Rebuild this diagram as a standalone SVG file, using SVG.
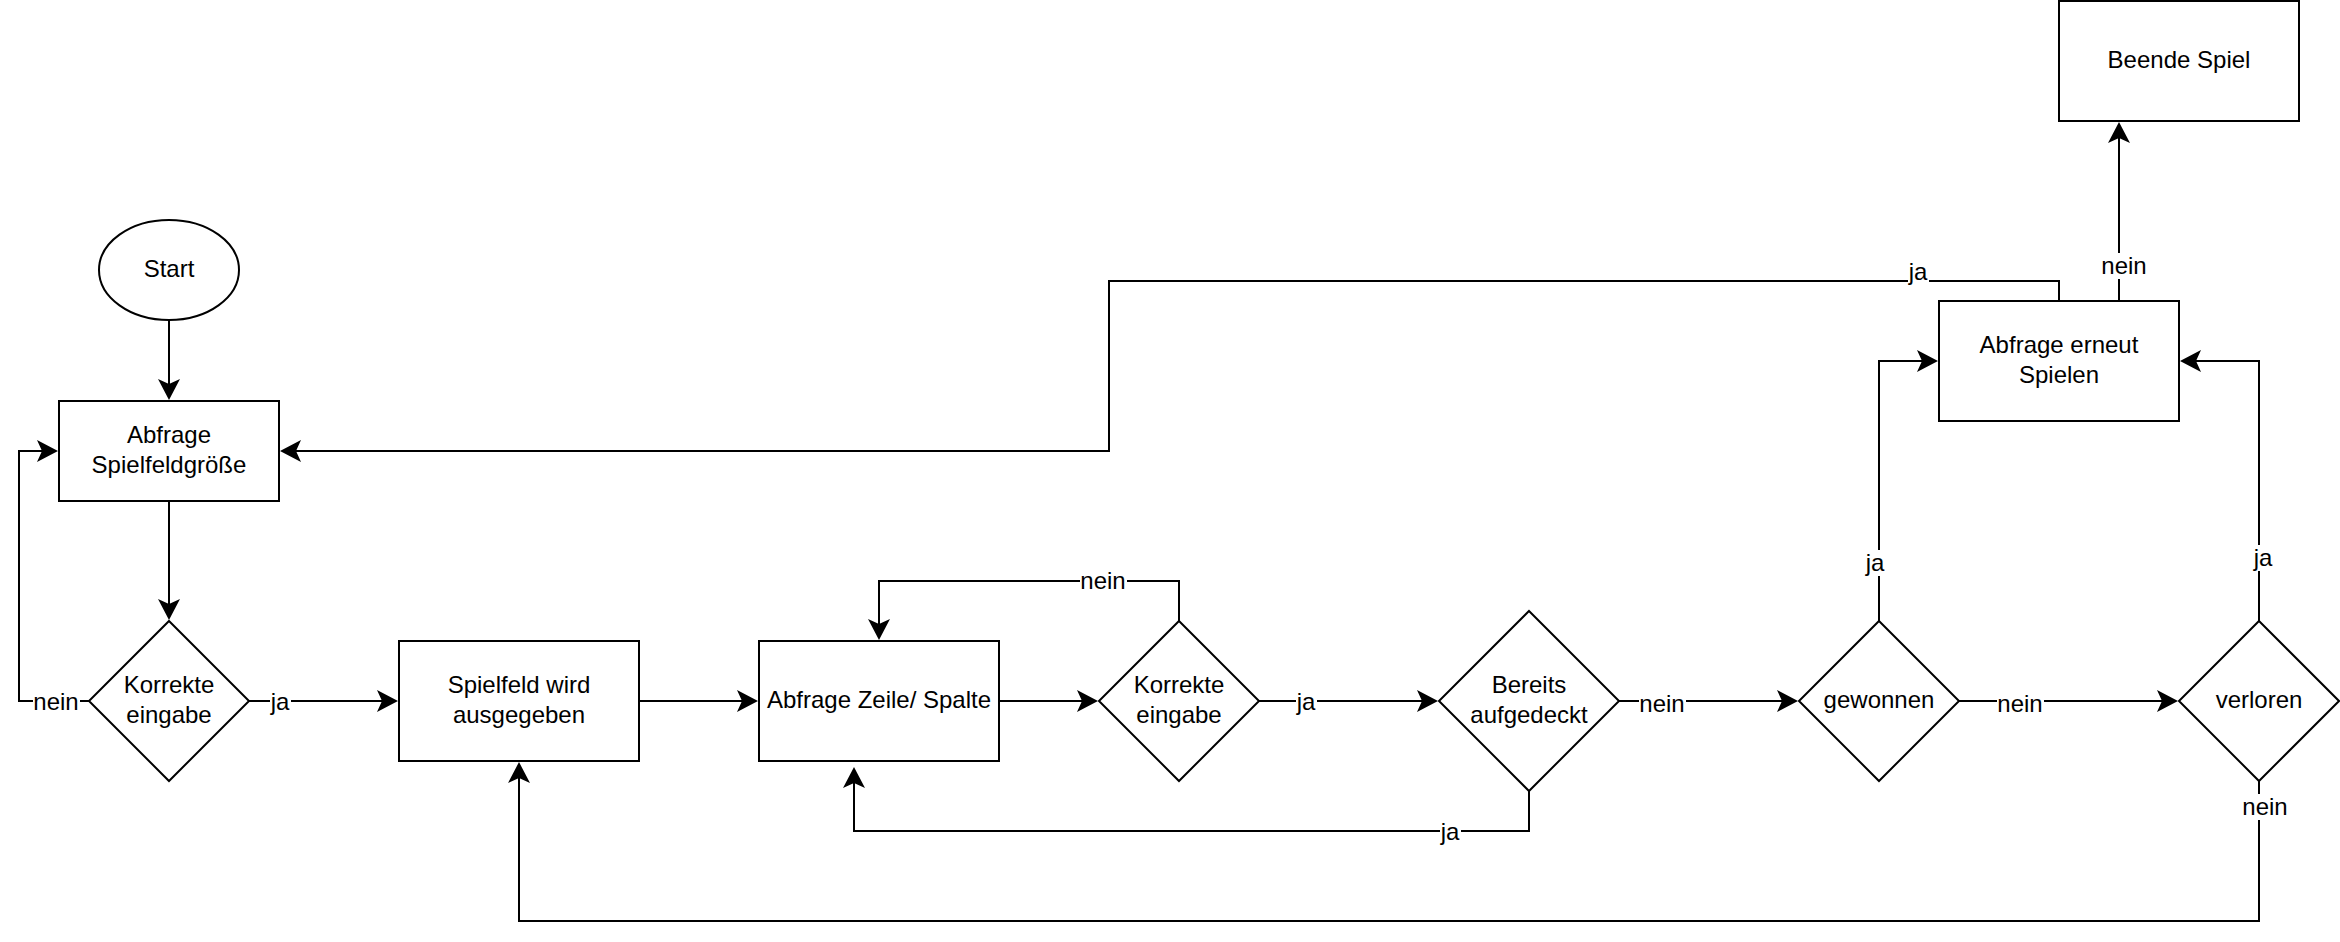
<svg xmlns="http://www.w3.org/2000/svg" width="2340" height="942" viewBox="0 0 2340 942">
  <defs>
    <style>
      .shape { fill: #ffffff; stroke: #000000; stroke-width: 2; }
      .edge { fill: none; stroke: #000000; stroke-width: 2; marker-end: url(#arrow); }
      .txt { font-family: "Liberation Sans", Arial, Helvetica, sans-serif; font-size: 24px; fill: #000000; text-anchor: middle; dominant-baseline: central; }
      .lblbg { fill: #ffffff; stroke: none; }
    </style>
    <!-- classic arrowhead: tip extends 16px past the path end -->
    <marker id="arrow" markerUnits="userSpaceOnUse" viewBox="0 0 21 22" refX="5" refY="11" markerWidth="21" markerHeight="22" orient="auto">
      <path d="M21,11 L0,0 L5,11 L0,22 Z" fill="#000000"/>
    </marker>
  </defs>
  <rect x="0" y="0" width="2340" height="942" fill="#ffffff"/>

  <!-- connectors -->
  <g id="connectors">
    <path class="edge" d="M169 320 V384"/>
    <path class="edge" d="M169 501 V604"/>
    <path class="edge" d="M89 701 H19 V451 H42"/>
    <path class="edge" d="M249 701 H382"/>
    <path class="edge" d="M639 701 H742"/>
    <path class="edge" d="M999 701 H1082"/>
    <path class="edge" d="M1179 621 V581 H879 V624"/>
    <path class="edge" d="M1259 701 H1422"/>
    <path class="edge" d="M1529 791 V831 H854 V783"/>
    <path class="edge" d="M1619 701 H1782"/>
    <path class="edge" d="M1879 621 V361 H1922"/>
    <path class="edge" d="M1959 701 H2162"/>
    <path class="edge" d="M2259 621 V361 H2196"/>
    <path class="edge" d="M2259 781 V921 H519 V778"/>
    <path class="edge" d="M2119 301 V138"/>
    <path class="edge" d="M2059 301 V281 H1109 V451 H296"/>

    <!-- edge labels -->
    <g id="edge-labels">
      <rect class="lblbg" x="33" y="689" width="47" height="26"/>
      <text class="txt" x="56" y="701">nein</text>
      <rect class="lblbg" x="270" y="689" width="21" height="26"/>
      <text class="txt" x="280" y="701">ja</text>
      <rect class="lblbg" x="1080" y="568" width="47" height="26"/>
      <text class="txt" x="1103" y="580">nein</text>
      <rect class="lblbg" x="1296" y="689" width="21" height="26"/>
      <text class="txt" x="1306" y="701">ja</text>
      <rect class="lblbg" x="1639" y="691" width="47" height="26"/>
      <text class="txt" x="1662" y="703">nein</text>
      <rect class="lblbg" x="1440" y="819" width="21" height="26"/>
      <text class="txt" x="1450" y="831">ja</text>
      <rect class="lblbg" x="1865" y="550" width="21" height="26"/>
      <text class="txt" x="1875" y="562">ja</text>
      <rect class="lblbg" x="1997" y="691" width="47" height="26"/>
      <text class="txt" x="2020" y="703">nein</text>
      <rect class="lblbg" x="2253" y="545" width="21" height="26"/>
      <text class="txt" x="2263" y="557">ja</text>
      <rect class="lblbg" x="2242" y="794" width="47" height="26"/>
      <text class="txt" x="2265" y="806">nein</text>
      <rect class="lblbg" x="2101" y="253" width="47" height="26"/>
      <text class="txt" x="2124" y="265">nein</text>
      <rect class="lblbg" x="1908" y="259" width="21" height="26"/>
      <text class="txt" x="1918" y="271">ja</text>
    </g>
  </g>

  <!-- nodes -->
  <g id="start">
    <ellipse class="shape" cx="169" cy="270" rx="70" ry="50"/>
    <text class="txt" x="169" y="268">Start</text>
  </g>
  <g id="abfrage-spielfeldgroesse">
    <rect class="shape" x="59" y="401" width="220" height="100"/>
    <text class="txt" x="169" y="434">Abfrage</text>
    <text class="txt" x="169" y="464">Spielfeldgröße</text>
  </g>
  <g id="korrekte-eingabe-1">
    <polygon class="shape" points="169,621 249,701 169,781 89,701"/>
    <text class="txt" x="169" y="684">Korrekte</text>
    <text class="txt" x="169" y="714">eingabe</text>
  </g>
  <g id="spielfeld-ausgabe">
    <rect class="shape" x="399" y="641" width="240" height="120"/>
    <text class="txt" x="519" y="684">Spielfeld wird</text>
    <text class="txt" x="519" y="714">ausgegeben</text>
  </g>
  <g id="abfrage-zeile-spalte">
    <rect class="shape" x="759" y="641" width="240" height="120"/>
    <text class="txt" x="879" y="699">Abfrage Zeile/ Spalte</text>
  </g>
  <g id="korrekte-eingabe-2">
    <polygon class="shape" points="1179,621 1259,701 1179,781 1099,701"/>
    <text class="txt" x="1179" y="684">Korrekte</text>
    <text class="txt" x="1179" y="714">eingabe</text>
  </g>
  <g id="bereits-aufgedeckt">
    <polygon class="shape" points="1529,611 1619,701 1529,791 1439,701"/>
    <text class="txt" x="1529" y="684">Bereits</text>
    <text class="txt" x="1529" y="714">aufgedeckt</text>
  </g>
  <g id="gewonnen">
    <polygon class="shape" points="1879,621 1959,701 1879,781 1799,701"/>
    <text class="txt" x="1879" y="699">gewonnen</text>
  </g>
  <g id="verloren">
    <polygon class="shape" points="2259,621 2339,701 2259,781 2179,701"/>
    <text class="txt" x="2259" y="699">verloren</text>
  </g>
  <g id="abfrage-erneut-spielen">
    <rect class="shape" x="1939" y="301" width="240" height="120"/>
    <text class="txt" x="2059" y="344">Abfrage erneut</text>
    <text class="txt" x="2059" y="374">Spielen</text>
  </g>
  <g id="beende-spiel">
    <rect class="shape" x="2059" y="1" width="240" height="120"/>
    <text class="txt" x="2179" y="59">Beende Spiel</text>
  </g>
</svg>
